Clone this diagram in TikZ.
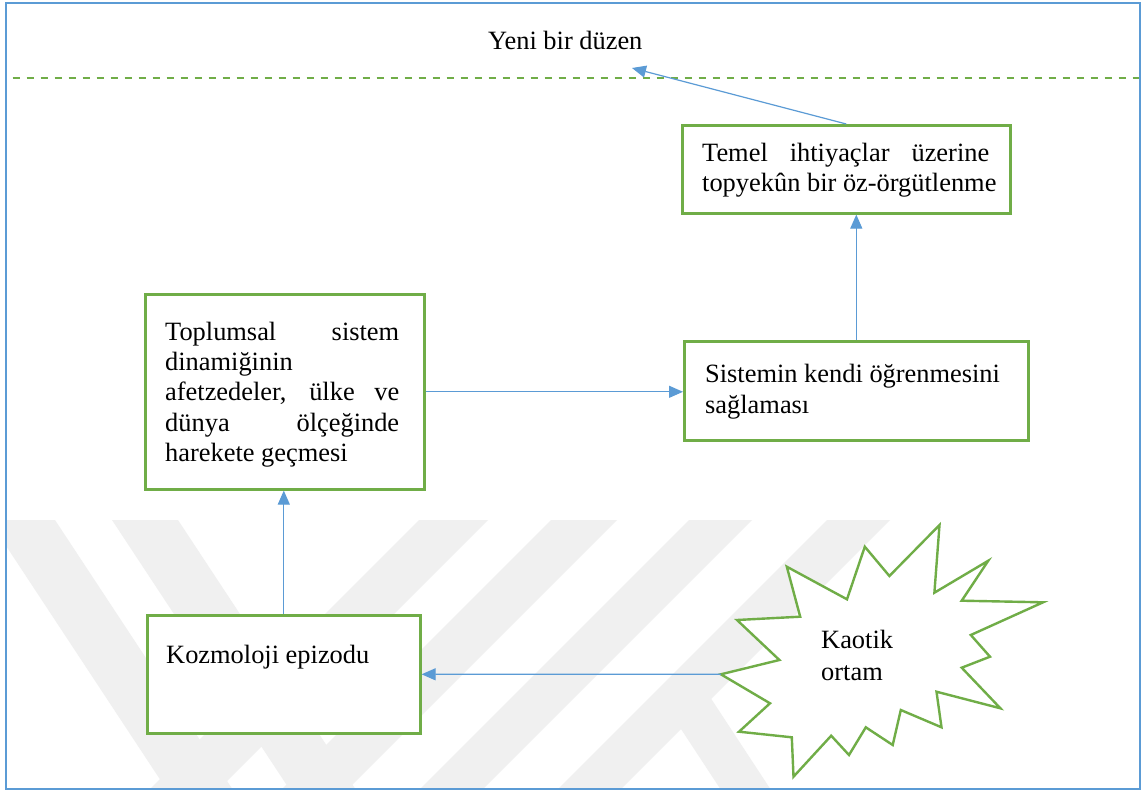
\documentclass[tikz,border=0pt]{standalone}
\usepackage{fontspec}
\setmainfont{Liberation Serif}
\usetikzlibrary{arrows.meta}
\definecolor{frameblue}{HTML}{5B9BD5}
\definecolor{boxgreen}{HTML}{70AD47}
\definecolor{markgray}{HTML}{F0F0F0}
% a line stretched to the given width, as in justified text
\newcommand{\justline}[2]{\makebox[#1][s]{#2}}

\begin{document}
\begin{tikzpicture}[x=1bp,y=-1bp,
  box/.style={draw=boxgreen, line width=2.6bp, fill=white, inner sep=0pt, anchor=north west},
  % multi-line texts are placed by the baseline of their last line
  txt/.style={inner sep=0pt, anchor=base west, align=left, font=\fontsize{26.5}{30.5}\selectfont},
  link/.style={draw=frameblue, line width=1.2bp, -{Triangle[length=14bp,width=12bp]}},
  burst/.style={draw=boxgreen, line width=2.4bp, fill=white, line join=miter},
  band/.style={fill=markgray},
]
\useasboundingbox (0,0) rectangle (1146,791);
\fill[white] (0,0) rectangle (1146,791);

% faint background bands in the lower part
\begin{scope}
  \clip (7,520) rectangle (1139,788);
  \fill[band] (-11,520) -- (55,520) -- (233,790) -- (167,790) -- cycle;
  \fill[band] (112,520) -- (178,520) -- (356,790) -- (290,790) -- cycle;
  \fill[band] (419,520) -- (488,520) -- (218,790) -- (149,790) -- cycle;
  \fill[band] (551,520) -- (617,520) -- (347,790) -- (281,790) -- cycle;
  \fill[band] (689,520) -- (752,520) -- (482,790) -- (419,790) -- cycle;
  \fill[band] (827,520) -- (890,520) -- (620,790) -- (557,790) -- cycle;
  \fill[band] (660,697) -- (710,697) -- (771,790) -- (721,790) -- cycle;
\end{scope}

% outer frame and dashed separator
\draw[frameblue, line width=2bp] (6,3) rectangle (1140,789);
\draw[boxgreen, line width=2bp, dash pattern=on 7bp off 7bp] (12.5,78) -- (1139,78);

% boxes
\node[box, minimum width=328bp, minimum height=88bp]  (tm) at (681,124) {};
\node[box, minimum width=279bp, minimum height=195bp] (tp) at (144,293) {};
\node[box, minimum width=344bp, minimum height=99bp]  (sk) at (683,340) {};
\node[box, minimum width=273bp, minimum height=118bp] (kz) at (146,614) {};

% starburst
\draw[burst] (720.9,674.3) -- (779.4,660) -- (737,620) -- (800.2,616.7)
  -- (786.8,566.7) -- (847,599.3) -- (864.8,546.7) -- (889.4,576)
  -- (939.5,525) -- (934.4,592.7) -- (988.3,560.7) -- (961.7,600.7)
  -- (1043.1,602.3) -- (970.8,635) -- (990,656.7) -- (961.7,667.7)
  -- (1000.4,708.3) -- (936.5,691.7) -- (941.5,727.3) -- (900.8,710)
  -- (892.7,745) -- (865.8,727.3) -- (849,755) -- (831.2,735.7)
  -- (793.5,776.7) -- (791.8,737.3) -- (739,731.7) -- (770,703.3) -- cycle;
\coordinate (kl) at (720.9,674.3);
\coordinate (ny) at (632,68);

% texts
\node[txt] (yt)  at (488,50) {Yeni bir düzen};
\node[txt] (tmt) at (702,191.7) {\justline{287bp}{Temel ihtiyaçlar üzerine}\\topyekûn bir öz-örgütlenme};
\node[txt] (skt) at (705,413) {Sistemin kendi öğrenmesini\\sağlaması};
\node[txt] (tpt) at (165,461.7) {\justline{234bp}{Toplumsal sistem}\\dinamiğinin\\\justline{234bp}{afetzedeler, ülke ve}\\\justline{234bp}{dünya ölçeğinde}\\harekete geçmesi};
\node[txt] (kzt) at (166,663) {Kozmoloji epizodu};
\node[txt, font=\fontsize{26.5}{31.7}\selectfont] (kot) at (821,680) {Kaotik\\ortam};

% connectors
\draw[link] (tm.north) -- (ny);
\draw[link] (sk.north) -- (sk.north |- tm.south);
\draw[link] (tp.east) -- (tp.east -| sk.west);
\draw[link] (kz.north) -- (kz.north |- tp.south);
\draw[link] (kl) -- (kz.east);
\end{tikzpicture}
\end{document}
